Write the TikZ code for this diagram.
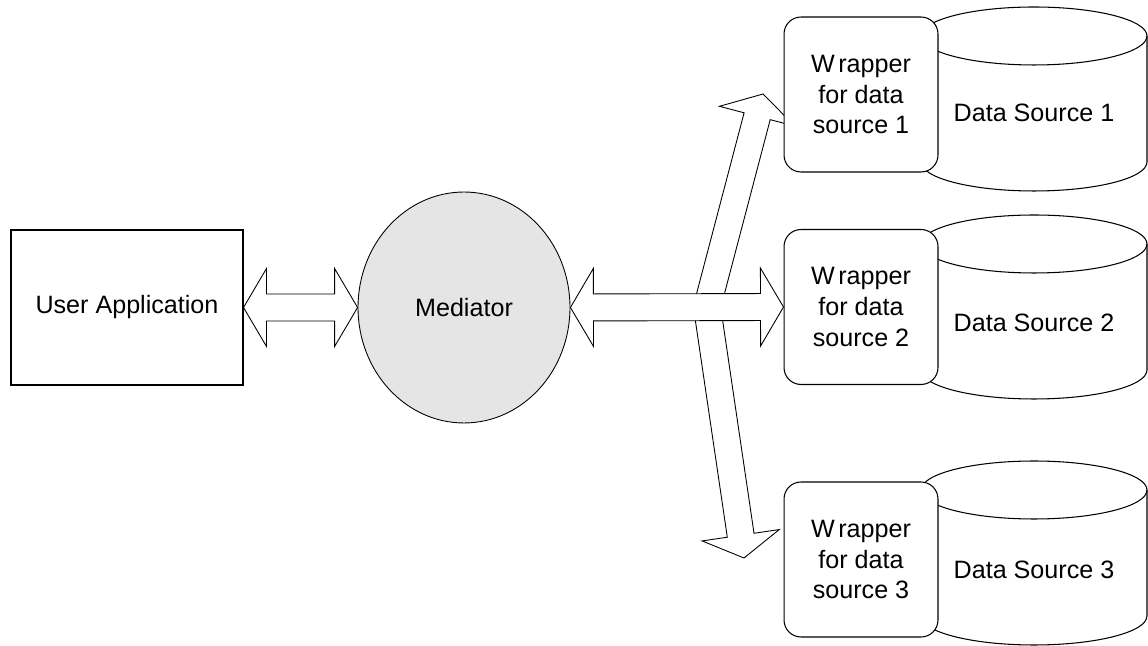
\documentclass[tikz,border=0pt]{standalone}
\usepackage{fontspec}
\setmainfont{Liberation Sans}
\usepackage{tikz}
\usetikzlibrary{calc,shapes.geometric}

\pgfdeclarelayer{back}
\pgfsetlayers{back,main}

\tikzset{
  every node/.style={font=\fontsize{14.3}{17.6}\selectfont},
  appbox/.style={draw, line width=0.6pt, minimum width=4.64cm, minimum height=3.1cm, inner sep=0pt},
  medellipse/.style={ellipse, draw, line width=0.5pt, fill=gray!20, minimum width=4.24cm, minimum height=4.62cm, inner sep=0pt},
  wrapbox/.style={draw, line width=0.6pt, fill=white, rounded corners=0.34cm, minimum width=3.08cm, minimum height=3.1cm, align=center, inner sep=0pt},
  cylside/.style={draw, fill=white, line width=0.6pt},
  blockarrow/.style={draw, fill=white, line width=0.5pt, line join=miter},
}
\def\arrhead{0.46cm}
\def\arrshaft{0.27cm}
\def\arrbarb{0.78cm}

\begin{document}
\begin{tikzpicture}[x=0.02cm,y=0.02cm]
  \useasboundingbox (0,0) rectangle (1148,645);

  % data sources
  \draw[cylside] (921,609) -- (921,483) arc[start angle=180,end angle=360,x radius=2.26cm,y radius=0.58cm]
    -- (1147,609) arc[start angle=0,end angle=180,x radius=2.26cm,y radius=0.58cm] -- cycle;
  \draw[line width=0.6pt] (921,609) arc[start angle=180,end angle=360,x radius=2.26cm,y radius=0.58cm];
  \node (ds1) at (1034,532) {Data Source 1};

  \draw[cylside] (921,401) -- (921,275) arc[start angle=180,end angle=360,x radius=2.26cm,y radius=0.58cm]
    -- (1147,401) arc[start angle=0,end angle=180,x radius=2.26cm,y radius=0.58cm] -- cycle;
  \draw[line width=0.6pt] (921,401) arc[start angle=180,end angle=360,x radius=2.26cm,y radius=0.58cm];
  \node (ds2) at (1034,322) {Data Source 2};

  \draw[cylside] (921,155) -- (921,29) arc[start angle=180,end angle=360,x radius=2.26cm,y radius=0.58cm]
    -- (1147,155) arc[start angle=0,end angle=180,x radius=2.26cm,y radius=0.58cm] -- cycle;
  \draw[line width=0.6pt] (921,155) arc[start angle=180,end angle=360,x radius=2.26cm,y radius=0.58cm];
  \node (ds3) at (1034,75) {Data Source 3};

  % wrappers
  \node[wrapbox] (wrap1) at (861,550.5) {W\kern2pt rapper\\for data\\source 1};
  \node[wrapbox] (wrap2) at (861,338) {W\kern2pt rapper\\for data\\source 2};
  \node[wrapbox] (wrap3) at (861,85.5) {W\kern2pt rapper\\for data\\source 3};

  \node[appbox] (app) at (127,337.5) {User Application};
  \node[medellipse] (med) at (464,337.5) {Mediator};

  \coordinate (hub) at (707,338);
  \coordinate (uptip) at (763,551);
  \coordinate (downtip) at (744,87);

  \begin{pgfonlayer}{back}
    % fan-out to sources 1 and 3
    \draw[blockarrow] ($(hub)!\arrshaft!90:(uptip)$) -- ($(uptip)!\arrhead!(hub)!\arrshaft!-90:(hub)$)
      -- ($(uptip)!\arrhead!(hub)!\arrbarb!-90:(hub)$) -- (uptip)
      -- ($(uptip)!\arrhead!(hub)!\arrbarb!90:(hub)$) -- ($(uptip)!\arrhead!(hub)!\arrshaft!90:(hub)$)
      -- ($(hub)!\arrshaft!-90:(uptip)$) -- cycle;
    \draw[blockarrow] ($(hub)!\arrshaft!90:(downtip)$) -- ($(downtip)!\arrhead!(hub)!\arrshaft!-90:(hub)$)
      -- ($(downtip)!\arrhead!(hub)!\arrbarb!-90:(hub)$) -- (downtip)
      -- ($(downtip)!\arrhead!(hub)!\arrbarb!90:(hub)$) -- ($(downtip)!\arrhead!(hub)!\arrshaft!90:(hub)$)
      -- ($(hub)!\arrshaft!-90:(downtip)$) -- cycle;

    % mediator <-> wrapper 2
    \draw[blockarrow] (med.east) -- ($(med.east)!\arrhead!(wrap2.west)!\arrbarb!90:(wrap2.west)$)
      -- ($(med.east)!\arrhead!(wrap2.west)!\arrshaft!90:(wrap2.west)$)
      -- ($(wrap2.west)!\arrhead!(med.east)!\arrshaft!-90:(med.east)$)
      -- ($(wrap2.west)!\arrhead!(med.east)!\arrbarb!-90:(med.east)$) -- (wrap2.west)
      -- ($(wrap2.west)!\arrhead!(med.east)!\arrbarb!90:(med.east)$)
      -- ($(wrap2.west)!\arrhead!(med.east)!\arrshaft!90:(med.east)$)
      -- ($(med.east)!\arrhead!(wrap2.west)!\arrshaft!-90:(wrap2.west)$)
      -- ($(med.east)!\arrhead!(wrap2.west)!\arrbarb!-90:(wrap2.west)$) -- cycle;

    % application <-> mediator
    \draw[blockarrow] (app.east) -- ($(app.east)!\arrhead!(med.west)!\arrbarb!90:(med.west)$)
      -- ($(app.east)!\arrhead!(med.west)!\arrshaft!90:(med.west)$)
      -- ($(med.west)!\arrhead!(app.east)!\arrshaft!-90:(app.east)$)
      -- ($(med.west)!\arrhead!(app.east)!\arrbarb!-90:(app.east)$) -- (med.west)
      -- ($(med.west)!\arrhead!(app.east)!\arrbarb!90:(app.east)$)
      -- ($(med.west)!\arrhead!(app.east)!\arrshaft!90:(app.east)$)
      -- ($(app.east)!\arrhead!(med.west)!\arrshaft!-90:(med.west)$)
      -- ($(app.east)!\arrhead!(med.west)!\arrbarb!-90:(med.west)$) -- cycle;
  \end{pgfonlayer}
\end{tikzpicture}
\end{document}
